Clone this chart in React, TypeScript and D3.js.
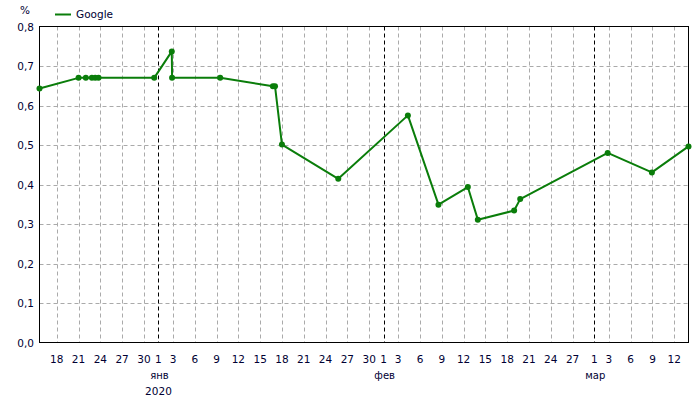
import React from "react";
import * as d3 from "d3";

// ---- data ----
const dates: Date[] = [
  new Date(2019, 11, 15, 15),
  new Date(2019, 11, 21, 0),
  new Date(2019, 11, 22, 0),
  new Date(2019, 11, 22, 20),
  new Date(2019, 11, 23, 7),
  new Date(2019, 11, 23, 18),
  new Date(2019, 11, 31, 10),
  new Date(2020, 0, 2, 20),
  new Date(2020, 0, 2, 21),
  new Date(2020, 0, 9, 12),
  new Date(2020, 0, 16, 18),
  new Date(2020, 0, 17, 1),
  new Date(2020, 0, 18, 0),
  new Date(2020, 0, 25, 18),
  new Date(2020, 1, 4, 8),
  new Date(2020, 1, 8, 13),
  new Date(2020, 1, 12, 14),
  new Date(2020, 1, 13, 23),
  new Date(2020, 1, 18, 23),
  new Date(2020, 1, 19, 19),
  new Date(2020, 2, 2, 20),
  new Date(2020, 2, 8, 22),
  new Date(2020, 2, 13, 23),
];
const googleValues: number[] = [
  0.643, 0.67, 0.67, 0.67, 0.67, 0.67, 0.67, 0.737, 0.67, 0.67, 0.649, 0.649,
  0.501, 0.4145, 0.575, 0.349, 0.3935, 0.311, 0.334, 0.363, 0.48, 0.4306, 0.4965,
];
const seriesName = "Google";
const yTicks: number[] = [0, 0.1, 0.2, 0.3, 0.4, 0.5, 0.6, 0.7, 0.8];
const decTickDays: number[] = [18, 21, 24, 27, 30];
const janTickDays: number[] = [1, 3, 6, 9, 12, 15, 18, 21, 24, 27, 30];
const febTickDays: number[] = [1, 3, 6, 9, 12, 15, 18, 21, 24, 27];
const marTickDays: number[] = [1, 3, 6, 9, 12];
const monthLabels: string[] = ["янв", "фев", "мар"];
const yearLabel = "2020";
const yUnit = "%";

const W = 700;
const H = 400;
const left = 39.5;
const right = 688.5;
const top = 26.5;
const bottom = 342.5;
const FONT = "'DejaVu Sans', Verdana, sans-serif";
const TEXT = "#000033";
const GREEN = "#0a7d0a";

export default function App() {
  const x = d3.scaleTime().domain([dates[0], dates[dates.length - 1]]).range([left, right]);
  const y = d3.scaleLinear().domain([0, 0.8]).range([bottom, top]);

  const ticks: { d: Date; label: string; monthStart: boolean }[] = [];
  decTickDays.forEach((d) => ticks.push({ d: new Date(2019, 11, d), label: String(d), monthStart: false }));
  janTickDays.forEach((d) => ticks.push({ d: new Date(2020, 0, d), label: String(d), monthStart: d === 1 }));
  febTickDays.forEach((d) => ticks.push({ d: new Date(2020, 1, d), label: String(d), monthStart: d === 1 }));
  marTickDays.forEach((d) => ticks.push({ d: new Date(2020, 2, d), label: String(d), monthStart: d === 1 }));
  const monthStarts = [new Date(2020, 0, 1), new Date(2020, 1, 1), new Date(2020, 2, 1)];

  const pts = dates.map((d, i) => ({ d, v: googleValues[i] }));
  const line = d3
    .line<{ d: Date; v: number }>()
    .x((p) => x(p.d))
    .y((p) => y(p.v));

  const fmt = (v: number) => v.toFixed(1).replace(".", ",");

  return (
    <svg width={W} height={H} style={{ position: "absolute", left: 0, top: 0 }} fontFamily={FONT}>
      <rect x={0} y={0} width={W} height={H} fill="#fff" />
      {/* horizontal grid */}
      {yTicks.slice(1, -1).map((t) => (
        <line key={"hg" + t} x1={left} x2={right} y1={Math.round(y(t)) + 0.5} y2={Math.round(y(t)) + 0.5}
          stroke="#aaa" strokeDasharray="4,3" />
      ))}
      {/* vertical grid */}
      {ticks.map((t, i) => {
        const xx = Math.round(x(t.d)) + 0.5;
        return (
          <line key={"vg" + i} x1={xx} x2={xx} y1={top} y2={bottom}
            stroke={t.monthStart ? "#000" : "#aaa"} strokeDasharray={t.monthStart ? "4,3" : "4,3"} />
        );
      })}
      {/* frame */}
      <rect x={left} y={top} width={right - left} height={bottom - top} fill="none" stroke="#000" strokeWidth={1} />
      {/* y labels */}
      {yTicks.map((t) => (
        <text key={"yl" + t} x={34} y={y(t) + 4} textAnchor="end" fontSize={10.5} fill={TEXT}>
          {fmt(t)}
        </text>
      ))}
      <text x={30} y={14} textAnchor="end" fontSize={10.5} fill={TEXT}>{yUnit}</text>
      {/* x labels */}
      {ticks.map((t, i) => (
        <text key={"xl" + i} x={x(t.d)} y={363} textAnchor="middle" fontSize={10.5} fill={TEXT}>
          {t.label}
        </text>
      ))}
      {monthStarts.map((m, i) => (
        <text key={"ml" + i} x={x(m) + 1} y={379} textAnchor="middle" fontSize={10} fill={TEXT}>
          {monthLabels[i]}
        </text>
      ))}
      <text x={x(monthStarts[0])} y={395} textAnchor="middle" fontSize={10.5} fill={TEXT}>{yearLabel}</text>
      {/* series */}
      <path d={line(pts) || ""} fill="none" stroke={GREEN} strokeWidth={2} strokeLinejoin="round" />
      {pts.map((p, i) => (
        <circle key={"pt" + i} cx={x(p.d)} cy={y(p.v)} r={3} fill={GREEN} />
      ))}
      {/* legend */}
      <line x1={55} x2={71} y1={14.5} y2={14.5} stroke={GREEN} strokeWidth={2} />
      <text x={76} y={18} fontSize={10.5} fill={TEXT}>{seriesName}</text>
    </svg>
  );
}
